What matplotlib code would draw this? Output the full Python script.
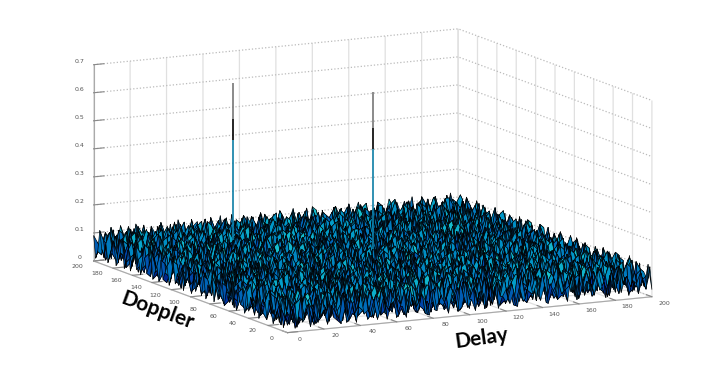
import numpy as np
import matplotlib
matplotlib.use("Agg")
import matplotlib.pyplot as plt
from matplotlib.colors import LinearSegmentedColormap, Normalize
from mpl_toolkits.mplot3d import Axes3D, proj3d

# noise floor read by eye, one digit per grid node, 1 digit = 0.013
noise_rows = [
"271436152847321526193428371562419327518264173952416382714625193847261539418273652941738261547392",
"426193728351642917354826195371482635917243586129473615284937162548391627345819264735182946371528",
"153782641935274681329517468239154762813496275318642951738426193572846135927361485297316485126734",
"638214975126483917562348179235641897324165928374516249368125794213685947125873469158237416983245",
"294571368243917526481735264918372546193825417369284517239641875342917568234196758314269587341976",
"517326489135762948213694857126439785126847392516473829154726938165243798516382479263514728936152",
"362948157426381795346125879341572698435219764328159647382916547238475196342876159427365184275938",
"185273694317549268172938465287316954271863549172634985162453897615928374169235847316982473156824",
"439615827264187359628471593164958237596342178495317268439287615348162795824713596248517396482371",
"726341958135926874351896247319742685123875964263894175726514938271539684135968247693124875314692",
"251874369482735196247563198452681397438916275147625839215738649512476938467285193517832964127583",
"694132587356149827913284756238197546215739486382451967843162975396284715329154768241675938465219",
"318765294127683459165937284615743982674125893516982743157496238147935826176438925983162475238746",
"547291386493218765328146597142659387129468375294731658426813795264182397534296781627394158173952",
"163842759218974536482659173297318465385297146738169542391724586719563248216975834518763249426387",
"825316974635142897159374268156284791946138527491526873562839147385214976473126598236184957319624",
"492687135174259368736219485439762158217684935263748196134975286142768359849351267974512386152798",
"371254896326891547415683927618345297653419728519832467287146539627349185165728934125893674486231",
"618943275583467129296174358271496836128735461847159328945316872395281764312496785364217598237946",
"254716983142935786638259714125783469392164857326487915163782459164873592946371528459168327615382",
"793125648627184359147386295934156278574812396178294653628954137238165947583642179187325946394751",
"146839527315762894282915463368427195241695783465931278193716284612497835217968354236784159726148",
"582374169948231675639147852514692873136378429214786539346258791375826149432156987951432678153296",
"329561784126593847416782395286317946597241638398125764782431956194672358169487523327159864248753",
"671248395735412968258369147147835629273896154526749183519684273248931576376215948148623795632917",
"145897236268947153392471586695124378648125397163258947264173985613785294584926371972541386174385",
"438652917582316794517246839312786945319574862947316258837592146429158763216783549315467928257163",
"263179584147693528684952371478293516126948735285479631145628397375246918942135678658324197419832",
"917524368435128976123768495164537829854213679319625784679314852138962457367219584236179845386124",
"382416795296754183546391782837241695293678154473186925218457963694713285125864397491583762172965",
"546783129163842597298175364253968471137495286128947356763128594257396148439728516814276953348571",
"129357648578216934714536289419627583468251937632514879341896275416583792186354927267541839195623",
"763294185342971586365842917146385792725193864295738641592467318823179465742916358983127546472386",
"418526973124638749197263458682974135318642597418265793136758924364925871359167284139465782216947",
"295138647956374218543819276357216849471957362783194526278341695198476352813625479574238916683152",
"631874952283146795126597384914783526634218795231679485849156273735219468247983165126794358347295",
"174269385417592368839461257261538974152876493564328917352974186286341597165427938369518274891463",
"856342719364815927372154896735426189319284567149673852724168539419783265396251847742163985524178",
"392917546129743658641328975142867395763541928287541693196532847653128974178346259198457362137692",
"528164873576291384219576438396415278142679385362917548483716925327495186825974136534286719786315",
"143785296842315967458923716528139647897413562514286397639251478168734529463125798261943875459128",
"769421358315964782173462895164758923325867194739812465145983276942516783398761524817326549216743",
"236598174627138495596287341837946215618294537428167953872634519275439168125689347349152768684251",
"481763925194726358329154678415362789472153896195346728216498357618257394764213985673814295137496",
"917326584358641927746893125269174836139685274632759184587132946346981572192574638128569473325867",
"264851739125974683185316297743528169564327918271643895324768519789152346358127964495326817749132",
"638149275496327518423759846186395724218946753894152637165984273213687495641935278236784159156384",
"175462983263815947971264358324716895793281465316478952487136529547923186273468195861352974923765",
"349827516547196283136582794659142378145679382562931748239751864165348927187356942413796285348216",
"812365947128479365584397162217863549386425197148725396618423975692815734529641738675128934267591",
"456731298936254871269148735481936257172398564793164285354897126274169583341875296239574618184326",
"193248675372618594617523489745312968538146729215897463762214859538647192196432857816293745523967",
"727596134145837926348976215263478195264957318649231578193658742129384675754169328147385926378145",
"364182759681249357152348796916254783791325846172485936417396258468751293283547169596721483241698",
"518473926293765184795612483358796142136784295834619527285143976351927846615923487324168759167352",
"246917385736154829423987156142531879425819673297368154638257149724186395147386952753482916593721",
"873265194158927463581264397697428315263978541516742983741896235396542718236195478195627384318456",
"391648257624315798127953648235169847648135792342895167154327869183764952974312865482916753647182",
"152794836372986145864471925714352689317296458179416325926481573625137849561849237136748295234975",
"685321479149573286236158794583967124592481367486327951341759628798264315328475196957126384716398",
"437169258823416957519634827126785493148763925235684179867293415143892576146937258324685917152643",
"219587346356147892746282315468913572875129436918127463153846792526371948783251694671492385489276",
"764352198192865374183795462317246985324596817647358291482175936914683527295614873138567249325817",
"138946725547231968629317584952618347167384295123946758596432178368129754134827956496175382761294",
"592173846284956317347846912246739185419752368785261394273168549271495683627953148352846719146738",
"346815279763128495195263478681354927683427159342198675817594326845632197491286735917234568583162",
"127694358138476592864729135493167852216891543591427836345286971192364758256318947126483975234971",
"951382467625394178312456789175934286758123694236765189918423657637518294143729586678591342416785",
"483267915471825936276193548328416759394576812914632578562137894385241769785914326243178695197362",
"216749583394167258539825164643297185126389475147853296273985416128976345319246587765234918638541",
"675138294128643597184312796514768932683254179368279145614572839571439628456813972196485723254173",
"342956817756291384968547231237415698915761348425196837358169247263185794241976385832746159716892",
"198427563213978546325184697862143759348972516793541268187236594714869253673214859158627394435218",
"564813279485326917751469382419285763126548397146829375693147825392574186182593746347916582263947",
"231695748169752348246873159675932184579812436317478526428916357625413978534867291213584769178354",
"817342596573984162193541728143768295262495783264983715184367529186792345295136847769412638542691",
"486159327327415896638296415526197843148376952732145689315892764451238697716482953315927846317825",
"153728964164863572415738926384625179735829164169526378927643158964173285382759164178364295693142",
"729464183892537146279184653217953486241567398384278915186721493275841936136948275524196738256714",
"345896172235146789164326978563742819817934265761493258354987216519362478924167583618275349134965",
"168237495678921354852673194978216543162798345235817694273541869146789325183594726932481657742383",
"912674358134587296347962815125438967439256187584361729896423157862315749367281945145976382285916",
"547183269496213875219537684346879125576143928172695348241768593194528637436917582623184759471632",
"263849715728369148684152396794612538238469751429587163517932684573946812295463178378925146136857",
"186325974253674891123786459215397846164825397856213974362185947218364795751829634942617385527493",
"734196582961528347573249168637481592926371845241769583984376125637291458318642957156384729193764",
"425768913147893265918635742184256739351487962375128496125649873142875936864193275267539148648215",
"371592846385216974246178395652973184748532619698342157673218549596341287245786319819427356324971",
"158247639692457183837964215231768945263195874123576948459871326263198745132569874374281695786153",
"694813527134685792125397846476142398517286943854629137137245698418673529967341528295163784215496",
"287365194576129348469518273985321674936418725216793584684912357325987164281456793148726359973621",
"413926758248763915753246189143679582124975368537148269295376841796514238536827149562394817346182",
"965174283397142586186793524267485913683152497891264375716832495143829657724169358218576934158794",
"328657149615938274329451768594213876259743816324816957348127569657341892198532746736841295492367",
"146293875183476529674825193372968145471628395165973428592764138281956473465278913124397586615238",
"752418396429751863238196547816574932915386274748215693163985724374126958317649285859261347273951",
]
noise_unit = 0.013

delay_ticks = [0, 20, 40, 60, 80, 100, 120, 140, 160, 180, 200]
doppler_ticks = [0, 20, 40, 60, 80, 100, 120, 140, 160, 180, 200]
z_ticks = [0, 0.1, 0.2, 0.3, 0.4, 0.5, 0.6, 0.7]
z_labels = ["0", "0.1", "0.2", "0.3", "0.4", "0.5", "0.6", "0.7"]

peak_delay = [50, 100]
peak_doppler = [150, 100]
peak_height = [0.665, 0.665]
# stretches of each spike from the bottom up
spike_levels = [0.16, 0.695, 0.81, 1.0]
spike_colors = ["#0d7ea6", "#000000", "#777777"]

width = min(len(r) for r in noise_rows)
Z = np.array([[int(c) for c in row[:width]] for row in noise_rows]) * noise_unit
delay = np.linspace(0, 200, Z.shape[1])
doppler = np.linspace(0, 200, Z.shape[0])
X, Y = np.meshgrid(delay, doppler)

fig = plt.figure(figsize=(7.22, 3.76), dpi=100)
S = 760.0
ax = fig.add_axes([(362.5 - S / 2) / 722, (185 - S / 2) / 376, S / 722, S / 376],
                  projection="3d", proj_type="ortho", computed_zorder=False)
ax.set_box_aspect((409.6, 422, 199.7), zoom=1.6056 * 376 / S)
ax.view_init(elev=11, azim=-117.3)
ax.set_xlim(0, 200, view_margin=0)
ax.set_ylim(0, 200, view_margin=0)
ax.set_zlim(0, 0.7, view_margin=0)

cmap = LinearSegmentedColormap.from_list("floor", ["#000a50", "#0030a0", "#0068b8", "#0098c8", "#20d0d0"])
ax.plot_surface(X, Y, Z, rstride=1, cstride=1, cmap=cmap, norm=Normalize(0.015, 0.105),
                edgecolor="black", linewidth=0.45, shade=False, zorder=1)

for dl, dp, h in zip(peak_delay, peak_doppler, peak_height):
    for i in range(len(spike_colors)):
        ax.plot([dl, dl], [dp, dp], [h * spike_levels[i], h * spike_levels[i + 1]],
                color=spike_colors[i], lw=1.2, solid_capstyle="butt", zorder=2)

ax.set_xticks(delay_ticks)
ax.set_yticks(doppler_ticks)
ax.set_zticks(z_ticks)
ax.set_xticklabels([])
ax.set_yticklabels([])
ax.set_zticklabels([])
ax.tick_params(color="#888888", width=0.8)

for axis in (ax.xaxis, ax.yaxis, ax.zaxis):
    axis.set_pane_color((1, 1, 1, 0))
    axis.pane.set_edgecolor((1, 1, 1, 0))
    axis.line.set_color("#aaaaaa")
    axis.line.set_linewidth(0.8)
    axis._axinfo["tick"].update(outward_factor=0.35, inward_factor=0.0)
ax.xaxis._axinfo["grid"].update(color="#e0e0e0", linestyle="-", linewidth=0.9)
ax.yaxis._axinfo["grid"].update(color="#e0e0e0", linestyle="-", linewidth=0.9)
ax.zaxis._axinfo["grid"].update(color="#bbbbbb", linestyle=":", linewidth=0.9)

# tick labels sit off the tick direction in the original, so place them by hand
M = ax.get_proj()
def tick_label(text, x, y, z, dx, dy):
    px, py, _ = proj3d.proj_transform(x, y, z, M)
    ax.annotate(text, xy=(px, py), xycoords="data", xytext=(dx, dy), textcoords="offset pixels",
                fontsize=4.5, color="#555555", ha="center", va="center", annotation_clip=False)

for t in delay_ticks:
    tick_label(str(t), t, 0, 0, 12, -6.5)
for t in doppler_ticks:
    tick_label(str(t), 0, t, 0, -16, -5.5)
for t, lab in zip(z_ticks, z_labels):
    tick_label(lab, 0, 200, t, -14, 3)

fig.text(158, 376 - 311, "Doppler", transform=None, fontsize=15, fontweight="bold", family="Lato",
         rotation=-20, ha="center", va="center")
fig.text(482, 376 - 338, "Delay", transform=None, fontsize=15, fontweight="bold", family="Lato",
         rotation=8, ha="center", va="center")

fig.savefig("out.png", dpi=100)
